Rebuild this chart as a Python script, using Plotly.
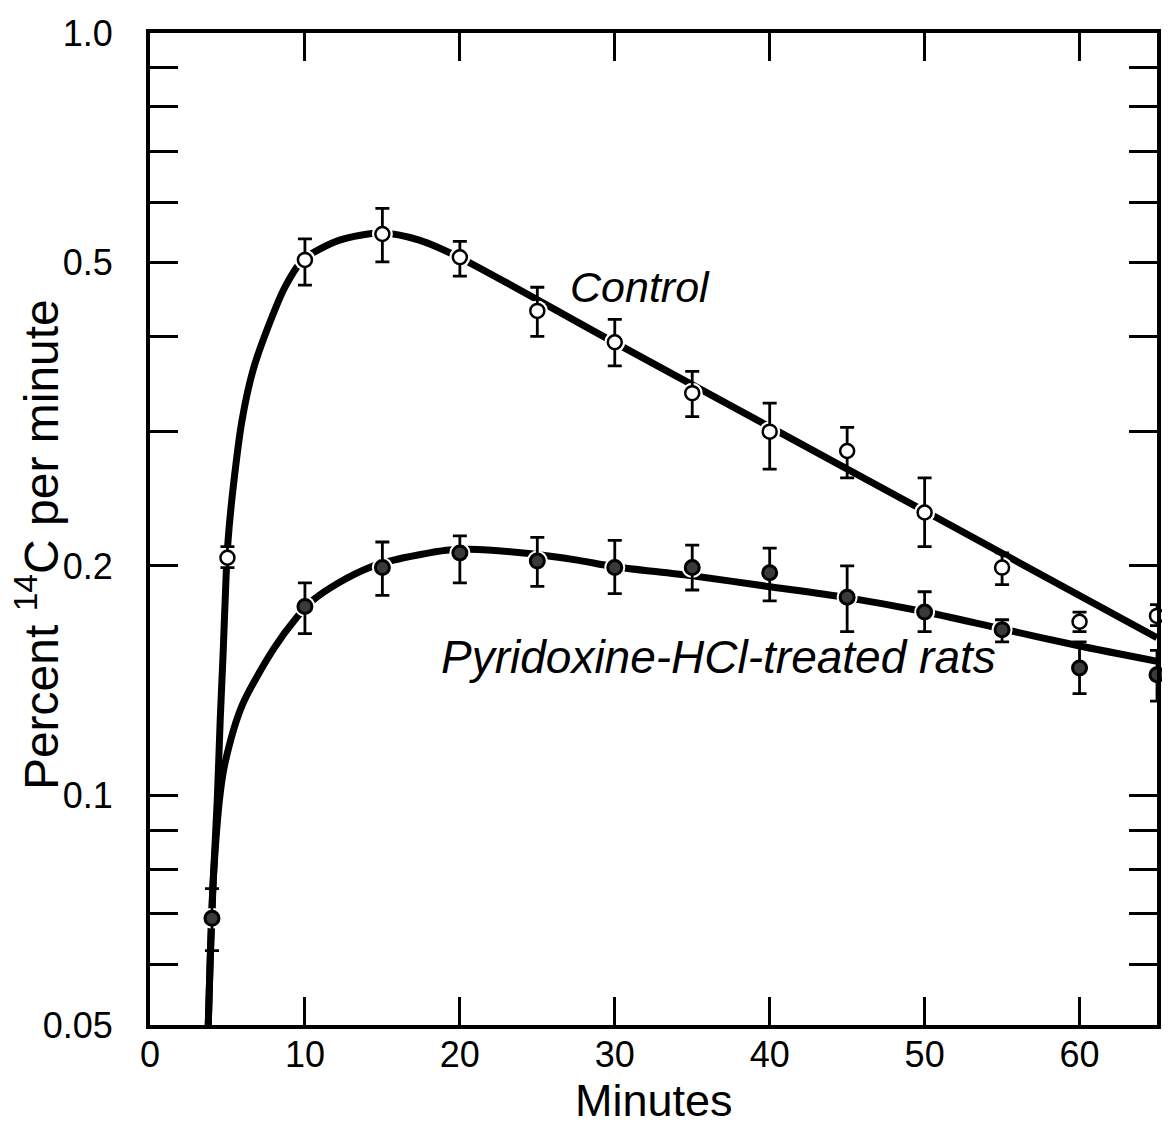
import numpy as np
import plotly.graph_objects as go

# ---------------- data ----------------
minutes_ctrl = [5, 10, 15, 20, 25, 30, 35, 40, 45, 50, 55, 60, 65]
ctrl_val = [0.205, 0.504, 0.545, 0.508, 0.432, 0.393, 0.337, 0.300, 0.283, 0.235, 0.199, 0.169, 0.172]
ctrl_hi = [0.212, 0.537, 0.589, 0.533, 0.464, 0.421, 0.360, 0.327, 0.304, 0.261, 0.208, 0.174, 0.178]
ctrl_lo = [0.199, 0.467, 0.501, 0.480, 0.400, 0.366, 0.314, 0.268, 0.261, 0.212, 0.189, 0.164, 0.167]

minutes_pyr = [4, 10, 15, 20, 25, 30, 35, 40, 45, 50, 55, 60, 65]
pyr_val = [0.069, 0.177, 0.199, 0.208, 0.203, 0.199, 0.199, 0.196, 0.182, 0.174, 0.165, 0.147, 0.144]
pyr_hi = [0.0755, 0.190, 0.215, 0.219, 0.218, 0.216, 0.213, 0.211, 0.200, 0.185, 0.170, 0.159, 0.155]
pyr_lo = [0.0626, 0.163, 0.183, 0.190, 0.188, 0.184, 0.186, 0.180, 0.164, 0.164, 0.159, 0.136, 0.133]

# fitted curves
ctrl_curve_x = [3.76, 3.89, 4.08, 4.34, 4.53, 4.72, 4.92, 5.04, 5.37, 5.94, 6.65, 7.62,
                8.71, 9.87, 12.24, 14.94, 17.38, 19.95, 29.85, 49.84, 65.0]
ctrl_curve_y = [0.050, 0.0613, 0.0773, 0.0985, 0.1254, 0.1536, 0.1955, 0.2162, 0.2536, 0.3105,
                0.3612, 0.4114, 0.4642, 0.504, 0.535, 0.5466, 0.535, 0.508, 0.394, 0.237, 0.161]

pyr_curve_x = [3.76, 3.89, 4.08, 4.53, 4.85, 5.94, 8.00, 9.48, 10.51, 12.24, 14.17,
               15.65, 19.12, 20.60, 24.45, 27.67, 29.85, 34.87, 39.88, 44.89, 49.84, 54.86,
               59.87, 65.0]
pyr_curve_y = [0.050, 0.0613, 0.0773, 0.1006, 0.1105, 0.1312, 0.1559, 0.1713,
               0.1803, 0.1904, 0.1991, 0.2034, 0.2097, 0.2103, 0.2077, 0.2034, 0.1997, 0.1943,
               0.1880, 0.1819, 0.1744, 0.1656, 0.1573, 0.1500]

y_tickvals = [0.05, 0.06, 0.07, 0.08, 0.09, 0.1, 0.2, 0.3, 0.4, 0.5, 0.6, 0.7, 0.8, 0.9, 1.0]
y_ticktext = ["0.05", "", "", "", "", "0.1", "0.2", "", "", "0.5", "", "", "", "", "1.0"]
x_tickvals = [0, 10, 20, 30, 40, 50, 60]
x_ticktext = ["0", "10", "20", "30", "40", "50", "60"]

FONT = "Liberation Sans, Arial, sans-serif"

fig = go.Figure()

# curves
for cx, cy in [(ctrl_curve_x, ctrl_curve_y), (pyr_curve_x, pyr_curve_y)]:
    fig.add_trace(go.Scatter(x=cx, y=cy, mode="lines",
                             line=dict(color="black", width=7, shape="spline", smoothing=0.8),
                             hoverinfo="skip", showlegend=False, cliponaxis=True))

# white halos so the lines break around the points
for mx, my in [(minutes_ctrl, ctrl_val), (minutes_pyr, pyr_val)]:
    fig.add_trace(go.Scatter(x=mx, y=my, mode="markers",
                             marker=dict(size=21, color="white", line=dict(width=0)),
                             hoverinfo="skip", showlegend=False, cliponaxis=False))


def errs(v, hi, lo):
    v, hi, lo = np.array(v), np.array(hi), np.array(lo)
    return hi - v, v - lo


up, dn = errs(ctrl_val, ctrl_hi, ctrl_lo)
fig.add_trace(go.Scatter(
    x=minutes_ctrl, y=ctrl_val, mode="markers", name="Control",
    marker=dict(size=14, color="white", line=dict(color="black", width=2.5)),
    error_y=dict(type="data", array=up, arrayminus=dn, color="black", thickness=2.8, width=7),
    showlegend=False, cliponaxis=False))

up, dn = errs(pyr_val, pyr_hi, pyr_lo)
fig.add_trace(go.Scatter(
    x=minutes_pyr, y=pyr_val, mode="markers", name="Pyridoxine-HCl-treated rats",
    marker=dict(size=14, color="#3a3a3a", line=dict(color="black", width=3)),
    error_y=dict(type="data", array=up, arrayminus=dn, color="black", thickness=2.8, width=7),
    showlegend=False, cliponaxis=False))

axis_common = dict(showline=True, linewidth=4, linecolor="black", mirror="allticks",
                   ticks="inside", ticklen=28, tickwidth=2.5, tickcolor="black",
                   showgrid=False, zeroline=False, automargin=False,
                   tickfont=dict(family=FONT, size=36, color="black"))

fig.update_xaxes(range=[0, 65], tickvals=x_tickvals, ticktext=x_ticktext,
                 ticklabelstandoff=-5, **axis_common)
fig.update_yaxes(type="log", range=[np.log10(0.05), 0], tickvals=y_tickvals, ticktext=y_ticktext,
                 ticklabelstandoff=26, **axis_common)

fig.add_annotation(x=31.6, y=np.log10(0.464), xref="x", yref="y", text="<i>Control</i>",
                   showarrow=False, font=dict(family=FONT, size=43, color="black"))
fig.add_annotation(x=36.7, y=np.log10(0.1518), xref="x", yref="y", text="<i>Pyridoxine-HCl-treated rats</i>",
                   showarrow=False, font=dict(family=FONT, size=46, color="black"))
fig.add_annotation(x=0.5, y=-0.076, xref="paper", yref="paper", text="Minutes", showarrow=False,
                   yanchor="middle", font=dict(family=FONT, size=45, color="black"))
fig.add_annotation(x=-0.112, y=0.484, xref="paper", yref="paper", text="Percent <sup>14</sup>C per minute",
                   showarrow=False, textangle=-90, xanchor="center", yanchor="middle",
                   font=dict(family=FONT, size=48, color="black"))

# the page adds an ~8px body margin, so the figure is sized to fit the window
fig.update_layout(width=1162, height=1121, margin=dict(l=142, r=13, t=25, b=104),
                  paper_bgcolor="white", plot_bgcolor="white", showlegend=False)

fig.write_html("out.html")
